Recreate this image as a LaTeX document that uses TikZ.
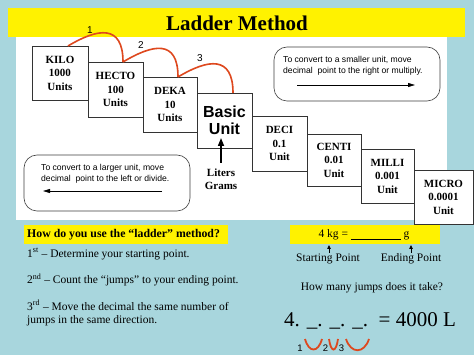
\documentclass[tikz,border=0pt]{standalone}
\usepackage{fontspec}
\setmainfont{Liberation Serif}
\newfontfamily\arialf{Liberation Sans}
\usetikzlibrary{arrows.meta}
\definecolor{bgblue}{RGB}{168,214,221}
\definecolor{jumpred}{RGB}{222,72,30}
\begin{document}
\begin{tikzpicture}[x=1pt,y=-1pt,
  unitbox/.style={draw=black!80,line width=0.8pt,fill=white,align=center,inner sep=0pt,
     font=\fontsize{11}{13.5}\selectfont\bfseries},
  jump/.style={draw=jumpred,line width=1.6pt},
  jumplabel/.style={font=\arialf\fontsize{10}{12}\selectfont,inner sep=0pt},
  notebox/.style={draw=black!75,line width=0.6pt,rounded corners=13pt},
  notetext/.style={font=\arialf\fontsize{8.6}{10.5}\selectfont,align=left,anchor=west,inner sep=0pt},
  bigarrow/.style={line width=0.8pt,-{Triangle[length=7pt,width=4pt]}},
  bodytext/.style={font=\fontsize{11.5}{13}\selectfont,anchor=west,inner sep=0pt},
  righttext/.style={font=\fontsize{11.5}{13}\selectfont,inner sep=0pt},
  vmark/.style={draw=jumpred,line width=1.8pt},
  smallnum/.style={font=\arialf\fontsize{9.5}{10}\selectfont,inner sep=0pt}]
\useasboundingbox (0,0) rectangle (474,355);
\fill[bgblue] (0,0) rectangle (474,355);
\fill[yellow] (8,8) rectangle (465,37);
\fill[white] (16,37) rectangle (447,220);
\node[font=\fontsize{21}{24}\selectfont\bfseries,inner sep=0pt] (title) at (237,23) {Ladder Method};

% ladder boxes
\node[unitbox,minimum width=56,minimum height=54] (kilo) at (60,73) {KILO\\1000\\Units};
\node[unitbox,minimum width=55,minimum height=55] (hecto) at (115.5,89.5) {HECTO\\100\\Units};
\node[unitbox,minimum width=54,minimum height=55] (deka) at (170,104.5) {DEKA\\10\\Units};
\node[unitbox,minimum width=55,minimum height=55,font=\arialf\fontsize{16}{16.5}\selectfont\bfseries] (basic) at (224.5,120.5) {Basic\\Unit};
\node[unitbox,minimum width=55,minimum height=55] (deci) at (279.5,143.5) {DECI\\0.1\\Unit};
\node[unitbox,minimum width=54,minimum height=52] (centi) at (334,160) {CENTI\\0.01\\Unit};
\node[unitbox,minimum width=53,minimum height=54] (milli) at (387.5,176) {MILLI\\0.001\\Unit};
\node[unitbox,minimum width=59,minimum height=54] (micro) at (443.5,197) {MICRO\\0.0001\\Unit};

% jumps
\coordinate (j0) at (68,46);
\coordinate (j1) at (123,62);
\coordinate (j2) at (178,77);
\coordinate (j3) at (233,93);
\draw[jump] (j0) .. controls +(30,-18) and +(0,-38) .. (j1);
\draw[jump] (j1) .. controls +(30,-18) and +(0,-38) .. (j2);
\draw[jump] (j2) .. controls +(30,-18) and +(0,-38) .. (j3);
\node[jumplabel] (n1) at (90,30) {1};
\node[jumplabel] (n2) at (141,45) {2};
\node[jumplabel] (n3) at (200,58) {3};

% liters grams
\node[font=\fontsize{11}{13.5}\selectfont\bfseries,align=center,inner sep=0pt] (lg) at (221,179) {Liters\\Grams};
\coordinate (lgtop) at (221,163);
\coordinate (lgtip) at (221,138);
\draw[line width=1.6pt,-{Triangle[length=8pt,width=6pt]}] (lgtop) -- (lgtip);

% note boxes
\node[notebox,minimum width=166,minimum height=54] (noteR) at (357,74) {};
\node[notetext] (noteRt) at (283,66) {To convert to a smaller unit, move\\decimal\ \ point to the right or multiply.};
\coordinate (aR1) at (297,85);
\coordinate (aR2) at (415,85);
\draw[bigarrow] (aR1) -- (aR2);

\node[notebox,minimum width=166,minimum height=56] (noteL) at (107,183) {};
\node[notetext] (noteLt) at (41,174) {To convert to a larger unit, move\\decimal\ \ point to the left or divide.};
\coordinate (aL1) at (162,191);
\coordinate (aL2) at (43,191);
\draw[bigarrow] (aL1) -- (aL2);

% bottom left
\fill[yellow] (24,225) rectangle (228,244);
\node[bodytext,font=\fontsize{11.8}{13}\selectfont\bfseries] (how) at (27,235) {How do you use the \textquotedblleft ladder\textquotedblright\ method?};
\node[bodytext] (s1) at (27,254) {1\textsuperscript{st} -- Determine your starting point.};
\node[bodytext] (s2) at (27,280) {2\textsuperscript{nd} -- Count the \textquotedblleft jumps\textquotedblright\ to your ending point.};
\node[bodytext,align=left,font=\fontsize{11.5}{12.8}\selectfont] (s3) at (27,313) {3\textsuperscript{rd} -- Move the decimal the same number of\\jumps in the same direction.};

% bottom right
\fill[yellow] (290,225) rectangle (440,244);
\node[righttext] (eq) at (364,235) {4 kg = \underline{\hspace{50pt}} g};
\node[righttext] (sp) at (328,259) {Starting Point};
\node[righttext] (ep) at (411,259) {Ending Point};
\coordinate (sa) at (329,253);
\coordinate (ea) at (411,253);
\draw[line width=0.8pt,-{Triangle[length=4pt,width=3.5pt]}] (sa) -- ++(0,-8);
\draw[line width=0.8pt,-{Triangle[length=4pt,width=3.5pt]}] (ea) -- ++(0,-8);
\node[righttext] (q) at (372,288) {How many jumps does it take?};
\node[font=\fontsize{21}{22}\selectfont,inner sep=0pt,anchor=west] (big) at (284,321) {4. \_. \_. \_. \,= 4000 L};

\node[smallnum] (v1n) at (300,348) {1};
\node[smallnum] (v2n) at (325.5,348) {2};
\node[smallnum] (v3n) at (341.5,348) {3};
\draw[vmark] (305,339) .. controls (309,353) and (318,353) .. (322,339);
\draw[vmark] (329,339) .. controls (331,353) and (336,353) .. (338,339);
\draw[vmark] (346,339) .. controls (351,354) and (364,354) .. (369,339);
\end{tikzpicture}
\end{document}
